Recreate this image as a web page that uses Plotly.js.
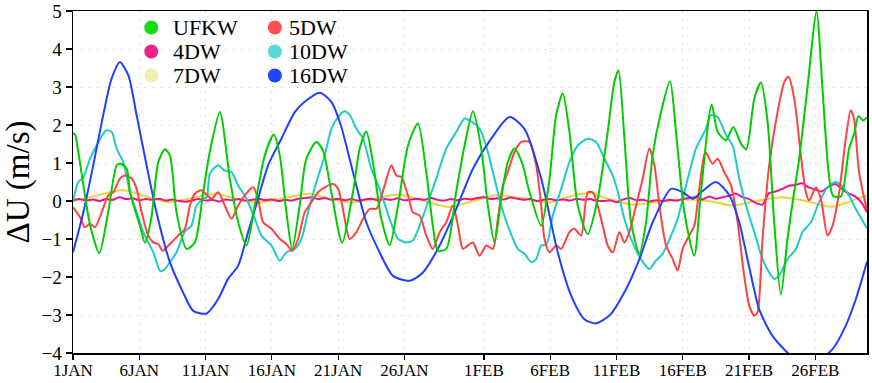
<!DOCTYPE html>
<html>
<head>
<meta charset="utf-8">
<script src="https://cdn.plot.ly/plotly-3.0.1.min.js"></script>
<style>html,body{margin:0;padding:0;background:#fff;}#chart{width:872px;height:383px;}</style>
</head>
<body>
<div id="chart"></div>
<script>
// ---- data (days since 1 Jan, values in m/s) ----
const seriesNames = ['UFKW','4DW','7DW','5DW','10DW','16DW'];

const ufkwDays = [0,0.15,0.4,1.3,1.98,2.65,3.3,3.6,4.05,4.3,5.05,5.43,5.9,6.43,6.93,7.31,7.81,8.57,9.19,9.82,10.32,11.08,11.83,12.46,13.09,13.72,14.47,15.15,15.6,16.1,16.53,17.1,17.6,18.36,18.86,19.49,20.3,21.12,21.63,22.13,22.63,23.26,23.89,24.52,25.27,26.02,26.65,27.15,27.53,28.16,28.9,29.54,30.17,30.8,31.3,31.8,32.3,32.8,33.3,33.9,34.44,35.32,35.95,36.45,36.95,37.45,38.08,38.83,39.59,40.34,40.84,41.15,41.6,42.1,42.73,43.23,43.73,44.36,45.04,45.49,46.12,46.87,47.37,48.18,48.63,49.26,49.81,50.39,50.8,51.4,51.9,52.4,52.9,53.4,53.9,54.4,54.75,55.4,56.09,56.54,57.0,57.35,57.93,58.55,58.93,59.26,59.6,59.9];
const ufkwVals = [1.78,1.75,1.29,-0.65,-1.37,-0.3,0.94,0.98,0.85,0.23,-0.65,-1.1,-0.47,1.02,1.36,1.2,-0.3,-1.26,-1.09,0.23,1.29,2.34,0.59,-0.56,-1.17,-0.12,1.2,1.75,1.2,-0.3,-1.26,-0.12,1.11,1.55,1.33,0.23,-1.1,0.23,1.38,1.83,1.02,-0.47,-1.16,-0.12,1.46,2.04,0.76,-0.65,-1.31,-1.26,0.23,1.46,2.36,1.38,-0.12,-1.09,0.06,1.02,1.38,0.98,0.23,-0.65,0.59,2.26,2.83,1.82,-0.12,-0.87,0.06,1.82,3.13,3.44,1.64,-0.56,-1.39,-0.56,1.2,2.34,3.15,1.82,-0.3,-1.44,0.23,2.54,1.82,1.6,1.95,1.51,1.36,2.7,3.12,2.08,-0.56,-2.47,-1.0,0.23,1.02,2.96,4.98,2.96,0.76,0.13,0.12,1.38,1.77,2.24,2.12,2.2];

const dw4Days = [0,0.5,1,1.5,2,2.5,3,3.5,4,4.5,5,5.5,6,6.5,7,7.5,8,8.5,9,9.5,10,10.5,11,11.5,12,12.5,13,13.5,14,14.5,15,15.5,16,16.5,17,17.5,18,18.5,19,19.5,20,20.5,21,21.5,22,22.5,23,23.5,24,24.5,25,25.5,26,26.5,27,27.5,28,28.5,29,29.5,30,30.5,31,31.5,32,32.5,33,33.5,34,34.5,35,35.5,36,36.5,37,37.5,38,38.5,39,39.5,40,40.5,41,41.5,42,42.5,43,43.5,44,44.5,45,45.5,46,46.5,47,47.5,48,48.5,49,49.5,50,50.5,51,51.5,52,52.5,53,53.5,54,54.5,55,55.5,56,56.5,57,57.5,58,58.5,59,59.5,59.9];
const dw4Vals = [0.02,0.05,0.01,0.04,0.0,0.05,0.03,0.1,0.05,0.07,0.02,0.05,0.03,0.06,0.01,0.04,0.0,-0.02,0.02,0.05,0.01,0.03,-0.01,0.04,0.02,0.05,0.01,0.03,0.06,0.02,0.04,0.0,0.03,0.01,0.06,0.08,0.1,0.05,0.08,0.03,0.06,0.02,0.05,0.01,0.04,0.06,0.02,0.05,0.03,0.07,0.02,0.04,0.06,0.03,0.08,0.03,0.01,0.05,0.02,0.06,0.04,0.08,0.1,0.05,0.07,0.04,0.09,0.06,0.03,0.05,0.0,0.03,0.05,0.02,0.04,0.01,0.06,0.03,0.05,0.01,0.0,0.02,-0.03,0.04,0.08,0.02,0.03,-0.01,0.02,0.0,0.03,0.01,0.05,0.08,0.1,0.04,0.12,0.06,0.1,0.14,0.2,0.1,0.05,-0.05,-0.1,0.2,0.25,0.32,0.4,0.42,0.47,0.36,0.3,0.25,0.38,0.45,0.32,0.2,0.12,-0.05,-0.3];

const dw7Days = [0,1.5,3.8,5.5,7.2,9.0,10.8,12.4,14.0,15.8,17.8,19.5,21.0,23.0,24.6,26.5,28.4,30.2,31.9,33.8,35.9,37.8,39.0,40.5,42.2,44.0,46.1,48.0,49.8,51.5,53.5,55.0,57.2,58.5,59.9];
const dw7Vals = [0.0,0.12,0.28,0.12,-0.03,0.08,0.19,0.05,-0.04,0.07,0.19,0.05,-0.04,0.08,0.17,0.0,-0.16,0.0,0.15,0.08,-0.04,0.15,0.2,0.05,-0.1,-0.03,0.04,0.0,-0.12,0.0,0.1,0.02,-0.15,-0.03,0.15];

const dw5Days = [0,0.53,0.9,1.28,1.66,2.16,2.66,3.04,3.54,3.92,4.42,4.8,5.18,5.68,6.05,6.43,6.76,7.31,7.94,8.44,8.82,9.19,9.7,10.45,10.95,11.45,11.96,12.46,12.96,13.59,13.96,14.34,14.97,15.6,16.1,16.53,16.98,17.48,17.99,18.49,18.99,19.62,20.0,20.3,20.5,20.87,21.38,21.88,22.38,22.9,23.51,24.02,24.39,24.77,25.27,25.64,26.15,26.65,27.15,27.66,28.16,28.66,29.04,29.41,29.79,30.17,30.67,31.18,31.67,32.05,32.43,32.8,33.31,33.81,34.44,34.94,35.32,35.57,35.95,36.45,36.83,37.45,37.83,38.33,38.83,39.21,39.84,40.34,40.72,41.22,41.6,41.97,42.48,42.98,43.48,43.86,44.24,44.74,45.24,45.61,45.99,46.49,46.87,47.25,47.7,48.25,48.63,49.13,49.64,50.14,50.6,51.02,51.4,51.64,52.02,52.52,53.15,53.66,53.98,54.41,54.91,55.29,55.54,56.04,56.42,56.92,57.3,57.8,58.3,58.67,58.92,59.3,59.9];
const dw5Vals = [-0.16,-0.43,-0.69,-0.6,-0.69,-0.3,0.15,0.23,0.59,0.67,0.59,0.32,-0.3,-0.91,-1.09,-1.13,-1.31,-1.13,-0.91,-0.73,-0.12,0.19,0.28,0.06,0.23,-0.12,-0.47,-0.12,0.15,0.36,0.06,-0.56,-0.73,-1.0,-1.13,-1.31,-1.0,-0.3,-0.03,0.23,0.36,0.45,0.32,-0.1,-0.47,-1.0,-0.82,-0.47,-0.21,-0.2,0.41,0.94,0.67,0.63,0.15,-0.3,-0.38,-0.91,-1.26,-0.82,-0.56,-0.12,-0.65,-1.26,-1.17,-1.09,-1.44,-1.17,-1.26,-0.47,0.41,0.76,1.29,1.55,1.55,0.94,-0.12,-1.0,-1.35,-1.17,-1.26,-0.82,-0.73,-0.91,0.23,0.23,-0.47,-1.17,-1.35,-0.82,-1.09,-0.82,-0.12,0.59,1.38,0.94,-0.12,-1.17,-1.53,-1.83,-1.26,-0.91,-0.65,0.32,1.29,0.98,1.11,0.76,0.41,-0.56,-1.88,-2.76,-3.02,-2.93,-1.0,0.94,2.34,3.13,3.27,2.7,1.2,0.23,0.01,0.36,0.06,-0.91,-0.65,0.23,1.64,2.39,2.17,0.76,-0.25];

const dw10Days = [0,0.4,0.75,1.28,1.78,2.28,2.54,2.92,3.29,3.79,4.3,4.8,5.3,6.05,6.6,6.93,7.31,7.81,8.44,8.94,9.32,9.82,10.1,10.32,10.95,11.45,11.96,12.46,13.09,13.72,14.22,14.97,15.6,16.1,16.73,17.23,17.73,18.36,18.99,19.49,20.12,20.5,20.9,21.38,21.88,22.51,23.13,23.89,24.52,25.15,25.64,26.15,26.78,27.4,28.16,28.92,29.54,30.0,30.42,30.8,31.3,31.8,32.3,32.8,33.56,34.06,34.57,34.94,35.32,35.7,36.2,36.83,37.45,38.08,38.83,39.46,40.09,40.72,41.1,41.47,42.1,42.85,43.48,43.98,44.48,45.12,45.61,46.25,47.0,47.75,48.13,48.63,49.26,49.76,50.26,50.8,51.4,52.02,52.52,52.9,53.3,53.91,54.54,55.03,55.66,56.29,56.92,57.55,58.3,59.06,59.9];
const dw10Vals = [-0.03,0.5,0.59,1.11,1.46,1.77,1.86,1.82,1.38,1.02,0.23,-0.3,-0.82,-1.35,-1.85,-1.79,-1.61,-1.35,-0.8,-0.65,-0.12,0.06,0.1,0.72,0.94,0.8,0.76,0.41,0.06,-0.47,-0.91,-1.17,-1.57,-1.35,-1.26,-1.0,-0.3,0.5,1.2,1.9,2.26,2.36,2.25,1.9,1.64,0.85,0.32,-0.47,-1.0,-1.09,-1.04,-0.65,-0.03,0.59,1.38,1.82,2.17,2.1,2.0,1.82,1.29,0.59,-0.12,-0.65,-1.26,-1.39,-1.61,-1.53,-1.17,-1.15,-0.38,0.32,1.02,1.46,1.64,1.55,1.11,0.67,0.25,-0.3,-1.0,-1.53,-1.79,-1.57,-1.39,-0.91,-0.47,0.41,1.38,1.9,2.26,2.21,1.73,1.46,0.59,-0.15,-0.82,-1.53,-1.88,-2.05,-1.95,-1.53,-1.26,-0.82,-0.56,-0.03,0.36,0.5,0.28,-0.21,-0.72];

const dw16Days = [0,0.78,1.53,2.28,2.91,3.54,4.17,4.8,5.55,6.3,7.31,8.31,9.07,10.07,10.95,11.7,12.46,13.21,13.96,14.72,15.72,16.73,17.48,18.61,19.49,20.2,21.12,22.13,23.13,24.14,25.4,26.4,27.66,28.91,30.17,31.55,32.93,34.06,35.32,36.57,37.58,38.58,39.46,40.5,41.72,42.73,43.73,45.12,46.0,46.75,47.38,48.5,49.51,50.26,51.02,51.77,52.77,54.03,55.5,57.3,58.3,59.06,59.9];
const dw16Vals = [-1.35,-0.3,0.94,2.26,3.22,3.65,3.31,2.26,0.94,-0.3,-1.61,-2.41,-2.89,-2.96,-2.58,-2.05,-1.7,-0.82,0.06,0.94,1.64,2.34,2.61,2.85,2.61,2.0,0.76,-0.56,-1.35,-1.97,-2.1,-1.88,-1.17,-0.21,0.85,1.64,2.21,1.9,0.59,-1.35,-2.49,-3.11,-3.22,-3.0,-2.32,-1.53,-0.56,0.32,0.23,0.06,0.23,0.5,0.15,-0.56,-1.75,-2.85,-3.55,-4.03,-4.35,-3.9,-3.28,-2.58,-1.6];

const tickDates = ['2020-01-01','2020-01-06','2020-01-11','2020-01-16','2020-01-21','2020-01-26','2020-02-01','2020-02-06','2020-02-11','2020-02-16','2020-02-21','2020-02-26'];
const tickLabels = ['1JAN','6JAN','11JAN','16JAN','21JAN','26JAN','1FEB','6FEB','11FEB','16FEB','21FEB','26FEB'];

// ---- styling ----
const lineColors = {UFKW:'#00cc00','4DW':'#ee1188','7DW':'#e6d63c','5DW':'#ff4242','10DW':'#22c9c9','16DW':'#2040ff'};
const legendColors = {UFKW:'#11dd11','4DW':'#ee2288','7DW':'#f2eeb2','5DW':'#ff5050','10DW':'#5cd6d6','16DW':'#2244ff'};

const BASE = Date.UTC(2020,0,1);
function toDate(d){ return new Date(BASE + Math.round(d*86400000)).toISOString().slice(0,19).replace('T',' '); }

const seriesData = {
  'UFKW':[ufkwDays,ufkwVals], '4DW':[dw4Days,dw4Vals], '7DW':[dw7Days,dw7Vals],
  '5DW':[dw5Days,dw5Vals], '10DW':[dw10Days,dw10Vals], '16DW':[dw16Days,dw16Vals]
};
const drawOrder = ['7DW','4DW','10DW','5DW','16DW','UFKW'];
const traces = drawOrder.map(n => ({
  type:'scatter', mode:'lines', name:n,
  x: seriesData[n][0].map(toDate), y: seriesData[n][1],
  line:{color:lineColors[n], width:2, shape:'spline', smoothing:0.7},
  showlegend:false, hoverinfo:'skip'
}));

// plot area in pixels
const L=73.3, R=866.7, T=11, B=352.7;
const px = x => (x-L)/(R-L);
const py = y => (B-y)/(B-T);
const legendCols = [
  {names:['UFKW','4DW','7DW'], mx:151.5, tx:172},
  {names:['5DW','10DW','16DW'], mx:275, tx:288}
];
const legendRows = [27.5, 51.5, 75.5];
const shapes = [], annotations = [];
legendCols.forEach(c => c.names.forEach((n,i) => {
  shapes.push({type:'circle', xref:'paper', yref:'paper', xsizemode:'pixel', ysizemode:'pixel',
    xanchor:px(c.mx), yanchor:py(legendRows[i]), x0:-7, x1:7, y0:-7, y1:7,
    fillcolor:legendColors[n], line:{width:0}, layer:'above'});
  annotations.push({xref:'paper', yref:'paper', x:px(c.tx), y:py(legendRows[i]), xanchor:'left', yanchor:'middle',
    text:n, showarrow:false, borderpad:0, valign:'middle',
    font:{family:'Liberation Serif, Times New Roman, serif', size:22, color:'#000'}});
}));

const layout = {
  width:872, height:383,
  margin:{l:L, r:872-R, t:T, b:383-B, pad:0},
  paper_bgcolor:'#fff', plot_bgcolor:'#fff',
  font:{family:'Liberation Serif, Times New Roman, serif', color:'#000'},
  xaxis:{type:'date', range:[toDate(0), toDate(59.9)], tickvals:tickDates, ticktext:tickLabels,
    ticks:'outside', ticklen:5, tickwidth:1.2, tickcolor:'#000', ticklabelstandoff:-4,
    showline:true, linecolor:'#000', linewidth:1.5, mirror:true,
    showgrid:true, gridcolor:'#c8c8c8', gridwidth:1, griddash:'1px,7px',
    zeroline:false, tickfont:{size:17, family:'Liberation Serif, serif'}, automargin:false},
  yaxis:{range:[-4,5], dtick:1, tick0:0, ticks:'outside', ticklen:6, tickwidth:1.2, tickcolor:'#000',
    showline:true, linecolor:'#000', linewidth:1.5, mirror:true,
    showgrid:true, gridcolor:'#c8c8c8', gridwidth:1, griddash:'1px,7px',
    zeroline:false, tickfont:{size:19, family:'Liberation Serif, serif'}, automargin:false,
    title:{text:'ΔU (m/s)', font:{size:33, family:'Liberation Serif, serif'}, standoff:6}},
  shapes:shapes, annotations:annotations, showlegend:false
};
Plotly.newPlot('chart', traces, layout, {staticPlot:true, displayModeBar:false});
</script>
</body>
</html>
